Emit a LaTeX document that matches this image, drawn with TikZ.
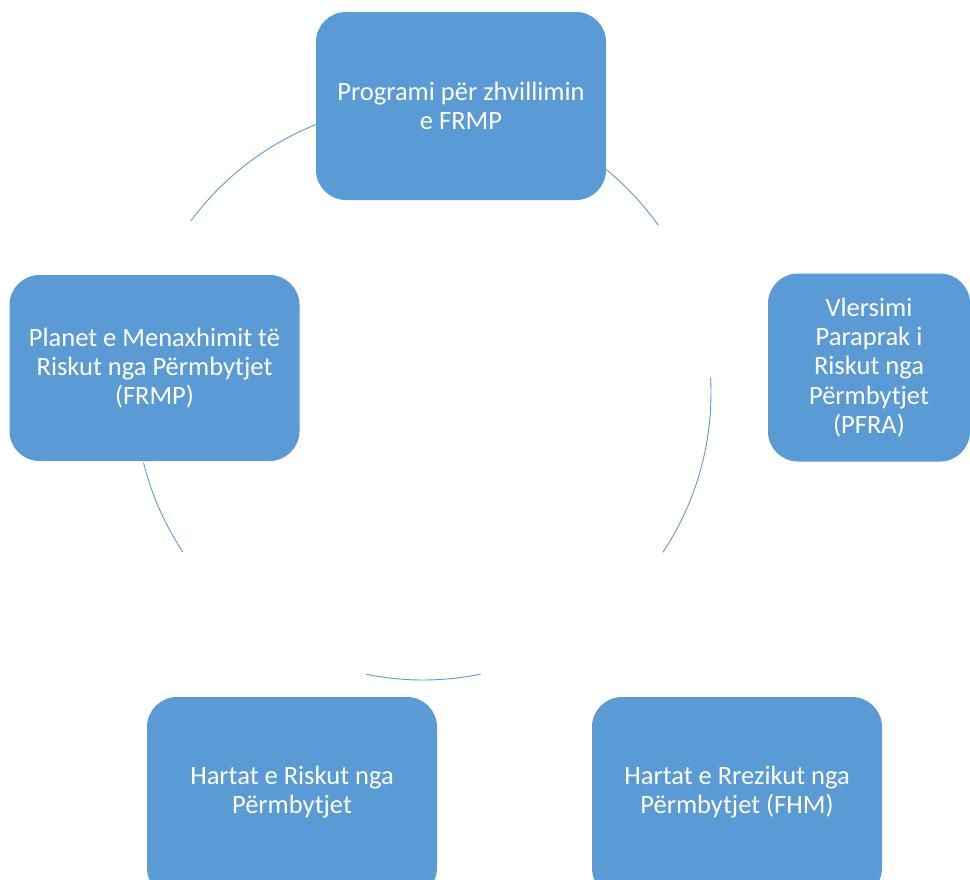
\documentclass[tikz,border=0pt]{standalone}
\usepackage{fontspec}
\setmainfont{Carlito}
\definecolor{boxblue}{HTML}{5B9BD5}

\begin{document}
\begin{tikzpicture}[x=1pt,y=-1pt]

        \useasboundingbox (0,0) rectangle (970,879);
        \clip (0,0) rectangle (970,879);

        \begin{scope}[every node/.style={rectangle,rounded corners=30pt,fill=boxblue,text=white,
            align=center,inner sep=0pt,font=\fontsize{26.5}{29.3}\selectfont,
            minimum width=290pt,minimum height=188pt}]
          \node (prog)  at (461,106) {Programi për zhvillimin\\e FRMP};
          \node[minimum width=202pt] (pfra)  at (869,367.5) {Vlersimi\\Paraprak i\\Riskut nga\\Përmbytjet\\(PFRA)};
          % bottom row runs past the lower edge
          \node[minimum height=201pt] (fhm)   at (737,797.5) {Hartat e Rrezikut nga\\Përmbytjet (FHM)\rule[-15pt]{0pt}{0pt}};
          \node[minimum height=201pt] (hrisk) at (292,797.5) {Hartat e Riskut nga\\Përmbytjet\rule[-15pt]{0pt}{0pt}};
          \node[minimum height=186pt] (frmp)  at (154.5,368) {Planet e Menaxhimit të\\Riskut nga Përmbytjet\\(FRMP)};
        \end{scope}

        \coordinate (c) at (423,393);

        \begin{scope}[every path/.style={draw=boxblue,line width=0.9pt}]
          \path ([shift={(-50.6:289)}]c) arc[start angle=-50.6,end angle=-35.5,radius=289];
          \path ([shift={(-3:288)}]c)    arc[start angle=-3,end angle=33.6,radius=288];
          \path ([shift={(78.4:287)}]c)  arc[start angle=78.4,end angle=101.4,radius=287];
          \path ([shift={(146.5:288)}]c) arc[start angle=146.5,end angle=166,radius=288];
          \path ([shift={(216.5:289)}]c) arc[start angle=216.5,end angle=248.5,radius=289];
        \end{scope}

      \end{tikzpicture}
\end{document}
